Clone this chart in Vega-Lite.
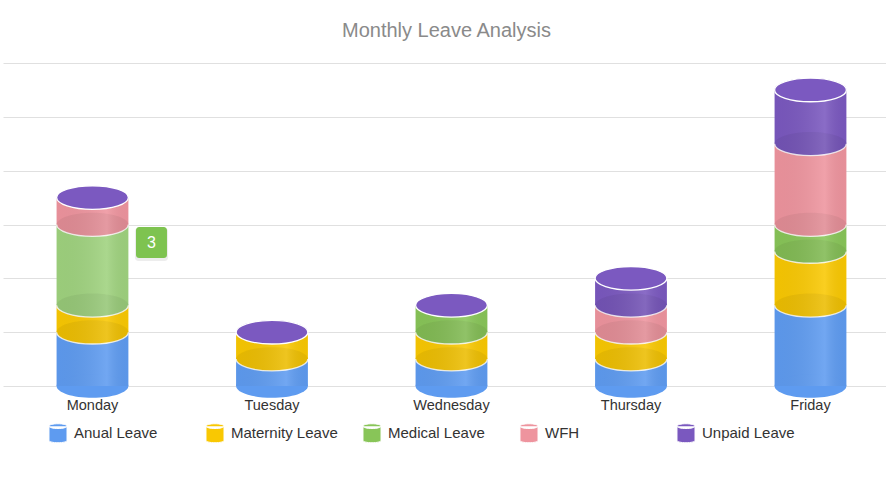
{
  "$schema": "https://vega.github.io/schema/vega-lite/v6.json",
  "width": 883,
  "height": 323,
  "autosize": {"type": "none"},
  "padding": {"left": 3, "top": 63, "right": 0, "bottom": 95},
  "background": "white",
  "title": {"text": "Monthly Leave Analysis", "fontSize": 20, "font": "Liberation Sans", "fontWeight": "normal", "color": "#8a8a8a", "anchor": "middle", "offset": 22, "dx": 2},
  "config": {"view": {"stroke": null}, "font": "Liberation Sans"},
  "data": {"values": [
    {"day": "Monday", "type": "Anual Leave", "count": 2},
    {"day": "Monday", "type": "Maternity Leave", "count": 1},
    {"day": "Monday", "type": "Medical Leave", "count": 3},
    {"day": "Monday", "type": "WFH", "count": 1},
    {"day": "Monday", "type": "Unpaid Leave", "count": 0},
    {"day": "Tuesday", "type": "Anual Leave", "count": 1},
    {"day": "Tuesday", "type": "Maternity Leave", "count": 1},
    {"day": "Tuesday", "type": "Medical Leave", "count": 0},
    {"day": "Tuesday", "type": "WFH", "count": 0},
    {"day": "Tuesday", "type": "Unpaid Leave", "count": 0},
    {"day": "Wednesday", "type": "Anual Leave", "count": 1},
    {"day": "Wednesday", "type": "Maternity Leave", "count": 1},
    {"day": "Wednesday", "type": "Medical Leave", "count": 1},
    {"day": "Wednesday", "type": "WFH", "count": 0},
    {"day": "Wednesday", "type": "Unpaid Leave", "count": 0},
    {"day": "Thursday", "type": "Anual Leave", "count": 1},
    {"day": "Thursday", "type": "Maternity Leave", "count": 1},
    {"day": "Thursday", "type": "Medical Leave", "count": 0},
    {"day": "Thursday", "type": "WFH", "count": 1},
    {"day": "Thursday", "type": "Unpaid Leave", "count": 1},
    {"day": "Friday", "type": "Anual Leave", "count": 3},
    {"day": "Friday", "type": "Maternity Leave", "count": 2},
    {"day": "Friday", "type": "Medical Leave", "count": 1},
    {"day": "Friday", "type": "WFH", "count": 3},
    {"day": "Friday", "type": "Unpaid Leave", "count": 2}
  ]},
  "transform": [
    {"calculate": "indexof(['Anual Leave','Maternity Leave','Medical Leave','WFH','Unpaid Leave'], datum.type)", "as": "ord"},
    {"stack": "count", "groupby": ["day"], "sort": [{"field": "ord", "order": "ascending"}], "as": ["y0", "y1"]}
  ],
  "encoding": {
    "x": {
      "field": "day", "type": "nominal",
      "sort": ["Monday", "Tuesday", "Wednesday", "Thursday", "Friday"],
      "scale": {"paddingInner": 0.6, "paddingOuter": 0.2596, "align": 0.575},
      "axis": {"title": null, "domain": false, "ticks": false, "labelAngle": 0, "labelFontSize": 14.5, "labelColor": "#333333", "labelPadding": 12, "labelFont": "Liberation Sans"}
    }
  },
  "layer": [
    {
      "mark": {"type": "bar"},
      "encoding": {
        "y": {"field": "y1", "type": "quantitative", "scale": {"domain": [0, 12], "nice": false},
              "axis": {"title": null, "labels": false, "ticks": false, "domain": false, "grid": true, "gridColor": "#e0e0e0", "values": [0, 2, 4, 6, 8, 10, 12]}},
        "y2": {"field": "y0"},
        "color": {
          "field": "type", "type": "nominal",
          "condition": {"test": "datum.day === 'Monday' && datum.type === 'Medical Leave'", "value": "#9fd27e"},
          "scale": {"domain": ["Anual Leave", "Maternity Leave", "Medical Leave", "WFH", "Unpaid Leave"], "range": ["#5e9bf0", "#f9c802", "#88c558", "#ee949e", "#7a58bf"]},
          "legend": {"orient": "none", "legendX": 45, "legendY": 360, "direction": "horizontal", "columns": 5, "title": null,
            "symbolType": "M-0.95,-0.75 A0.95,0.25 0 0,1 0.95,-0.75 L0.95,0.75 A0.95,0.25 0 0,1 -0.95,0.75 Z M-0.95,-0.75 A0.95,0.25 0 0,0 0.95,-0.75",
            "symbolSize": 361, "symbolStrokeColor": "white", "symbolStrokeWidth": 1, "symbolOpacity": 1,
            "labelFont": "Liberation Sans", "labelFontSize": 15, "labelColor": "#333333", "labelOffset": 6,
            "columnPadding": 22, "gridAlign": "all", "padding": 0}
        }
      }
    },
    {
      "transform": [{"filter": "datum.count > 0"}],
      "mark": {"type": "point", "shape": "M-1,0 A1,0.33 0 1,0 1,0 A1,0.33 0 1,0 -1,0 Z", "size": 5155, "filled": true, "opacity": 1, "strokeWidth": 0},
      "encoding": {
        "y": {"field": "y0", "type": "quantitative"},
        "color": {
          "field": "type", "type": "nominal", "legend": null,
          "condition": {"test": "datum.day === 'Monday' && datum.type === 'Medical Leave'", "value": "#9fd27e"}
        }
      }
    },
    {
      "transform": [{"filter": "datum.count > 0 && datum.y0 > 0"}],
      "mark": {"type": "point", "shape": "M-1,0 A1,0.33 0 1,0 1,0 A1,0.33 0 1,0 -1,0 Z", "size": 5155, "filled": true, "color": "#000000", "opacity": 0.05, "strokeWidth": 0},
      "encoding": {"y": {"field": "y0", "type": "quantitative"}}
    },
    {
      "transform": [{"filter": "datum.count > 0 && datum.y0 > 0"}],
      "mark": {"type": "point", "shape": "M-1,0 A1,0.33 0 0,0 1,0", "size": 5155, "filled": false, "stroke": "#ffffff", "strokeWidth": 1.3, "opacity": 0.85},
      "encoding": {"y": {"field": "y0", "type": "quantitative"}}
    },
    {
      "transform": [{"aggregate": [{"op": "sum", "field": "count", "as": "total"}], "groupby": ["day"]}],
      "mark": {"type": "bar", "fill": {"gradient": "linear", "x1": 0, "x2": 1, "y1": 0, "y2": 0, "stops": [
        {"offset": 0, "color": "rgba(0,0,0,0.03)"},
        {"offset": 0.7, "color": "rgba(255,255,255,0.12)"},
        {"offset": 1, "color": "rgba(0,0,0,0.03)"}]}},
      "encoding": {"y": {"field": "total", "type": "quantitative"}}
    },
    {
      "transform": [{"aggregate": [{"op": "sum", "field": "count", "as": "total"}], "groupby": ["day"]}],
      "mark": {"type": "point", "shape": "M-1,0 A1,0.33 0 1,0 1,0 A1,0.33 0 1,0 -1,0 Z", "size": 5155, "filled": true, "fill": "#7b59c0", "stroke": "#ffffff", "strokeWidth": 1.3, "opacity": 1},
      "encoding": {"y": {"field": "total", "type": "quantitative"}}
    },
    {
      "transform": [{"filter": "datum.day === 'Monday' && datum.type === 'Medical Leave'"}],
      "mark": {"type": "point", "shape": "M-0.8,-1 L0.8,-1 A0.2,0.2 0 0,1 1,-0.8 L1,0.8 A0.2,0.2 0 0,1 0.8,1 L-0.8,1 A0.2,0.2 0 0,1 -1,0.8 L-1,-0.8 A0.2,0.2 0 0,1 -0.8,-1 Z", "size": 1100, "filled": true, "color": "#000000", "opacity": 0.07, "strokeWidth": 0, "xOffset": 59, "yOffset": 20},
      "encoding": {"y": {"field": "y1", "type": "quantitative"}}
    },
    {
      "transform": [{"filter": "datum.day === 'Monday' && datum.type === 'Medical Leave'"}],
      "mark": {"type": "point", "shape": "M-0.8,-1 L0.8,-1 A0.2,0.2 0 0,1 1,-0.8 L1,0.8 A0.2,0.2 0 0,1 0.8,1 L-0.8,1 A0.2,0.2 0 0,1 -1,0.8 L-1,-0.8 A0.2,0.2 0 0,1 -0.8,-1 Z", "size": 960, "filled": true, "color": "#7ec350", "opacity": 1, "strokeWidth": 0, "xOffset": 59, "yOffset": 18},
      "encoding": {"y": {"field": "y1", "type": "quantitative"}}
    },
    {
      "transform": [{"filter": "datum.day === 'Monday' && datum.type === 'Medical Leave'"}],
      "mark": {"type": "text", "color": "#ffffff", "fontSize": 16, "font": "Liberation Sans", "baseline": "middle", "align": "center", "xOffset": 59, "yOffset": 18},
      "encoding": {"y": {"field": "y1", "type": "quantitative"}, "text": {"field": "count", "type": "quantitative"}}
    }
  ]
}
